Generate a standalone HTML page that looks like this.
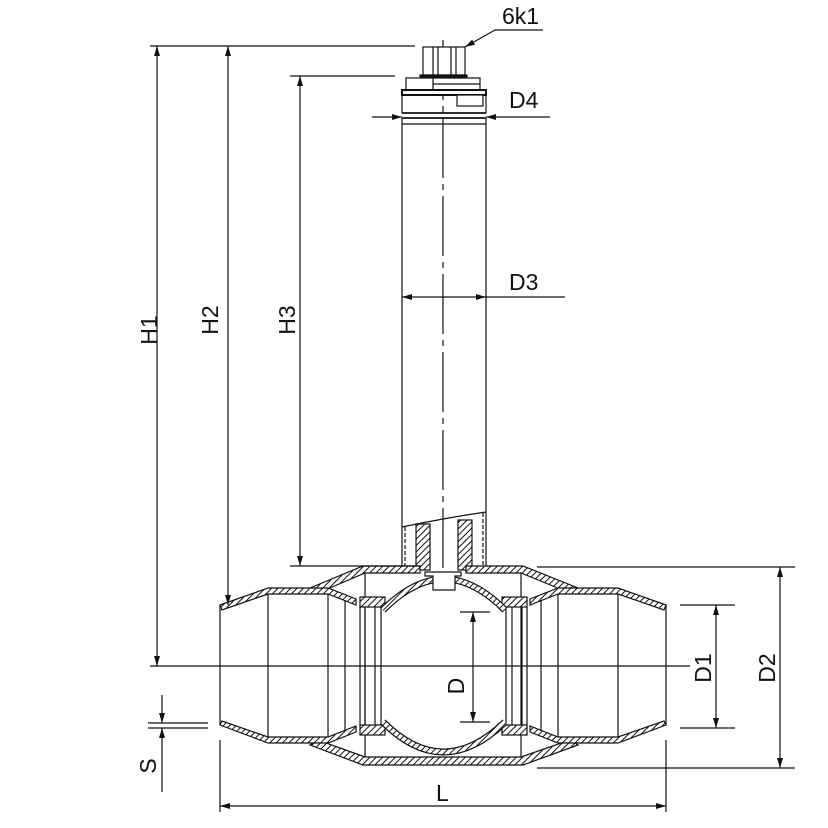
<!DOCTYPE html>
<html><head><meta charset="utf-8"><style>html,body{margin:0;padding:0;background:#fff}svg{display:block}</style></head><body>
<svg width="828" height="828" viewBox="0 0 828 828" xmlns="http://www.w3.org/2000/svg" font-family="Liberation Sans, sans-serif">
<defs>
<pattern id="h" patternUnits="userSpaceOnUse" width="4.5" height="4.5" patternTransform="rotate(45)"><rect width="4.5" height="4.5" fill="#fff"/><line x1="0" y1="0" x2="0" y2="4.5" stroke="#111" stroke-width="2"/></pattern>
<marker id="a" viewBox="0 0 10 10" refX="10" refY="5" markerWidth="10" markerHeight="10" orient="auto-start-reverse" markerUnits="userSpaceOnUse"><path d="M0,2 L10,5 L0,8z" fill="#111"/></marker>
</defs>
<g stroke="#111" stroke-width="1.2" fill="none">
<line x1="150" y1="666" x2="690" y2="666"/>
<line x1="443" y1="40" x2="443" y2="582" stroke-dasharray="60,6,6,6"/>
<rect x="423" y="47" width="42" height="28" fill="#fff"/>
<line x1="433" y1="47" x2="433" y2="75"/><line x1="438" y1="47" x2="438" y2="75"/><line x1="451" y1="47" x2="451" y2="75"/><line x1="456" y1="47" x2="456" y2="75"/>
<rect x="420" y="75" width="47" height="3" fill="#111"/>
<rect x="406" y="78" width="74" height="12" fill="#fff"/>
<line x1="433" y1="78" x2="433" y2="90"/><line x1="433" y1="84" x2="480" y2="84"/>
<rect x="402" y="90" width="84" height="5" fill="#fff" stroke-width="2"/>
<rect x="457" y="95" width="26" height="11" fill="#fff"/>
<line x1="402" y1="95" x2="402" y2="113"/><line x1="486" y1="95" x2="486" y2="113"/>
<line x1="402" y1="113" x2="486" y2="113" stroke-width="1.8"/><line x1="402" y1="118" x2="486" y2="118" stroke-width="1.8"/>
<line x1="402" y1="124" x2="486" y2="124"/>
<line x1="402" y1="118" x2="402" y2="568"/><line x1="486" y1="118" x2="486" y2="568"/>
<path d="M402,527 Q445,518 486,512"/>
<rect x="416" y="524" width="14" height="46" fill="url(#h)"/>
<rect x="458" y="520" width="14" height="50" fill="url(#h)"/>
<line x1="405" y1="527" x2="405" y2="568" stroke-dasharray="4,2"/><line x1="483" y1="513" x2="483" y2="568" stroke-dasharray="4,2"/>
<path d="M310,588 L363,566 L420,566 L420,573 L365,573 L318,593z" fill="url(#h)"/>
<path d="M466,566 L523,566 L578,588 L570,593 L521,573 L466,573z" fill="url(#h)"/>
<path d="M310,745 L318,740 L365,757 L521,757 L570,740 L578,745 L523,765 L363,765z" fill="url(#h)"/>
<line x1="365" y1="573" x2="365" y2="757"/><line x1="521" y1="573" x2="521" y2="757"/>
<path d="M220,605 L268,588 L328,588 L356,599 L356,605 L328,594 L268,594 L222,610z" fill="url(#h)"/>
<path d="M220,725 L268,743 L328,743 L356,732 L356,726 L328,737 L268,737 L222,721z" fill="url(#h)"/>
<line x1="220" y1="605" x2="220" y2="725"/>
<line x1="268" y1="594" x2="268" y2="737"/><line x1="328" y1="594" x2="328" y2="737"/><line x1="345" y1="600" x2="345" y2="731"/>
<path d="M666,605 L618,588 L558,588 L530,599 L530,605 L558,594 L618,594 L664,610z" fill="url(#h)"/>
<path d="M666,725 L618,743 L558,743 L530,732 L530,726 L558,737 L618,737 L664,721z" fill="url(#h)"/>
<line x1="666" y1="605" x2="666" y2="725"/>
<line x1="618" y1="594" x2="618" y2="737"/><line x1="558" y1="594" x2="558" y2="737"/><line x1="541" y1="600" x2="541" y2="731"/>
<rect x="360" y="597" width="25" height="10" fill="url(#h)"/><rect x="360" y="725" width="25" height="10" fill="url(#h)"/>
<rect x="502" y="597" width="25" height="10" fill="url(#h)"/><rect x="502" y="725" width="25" height="10" fill="url(#h)"/>
<line x1="360" y1="607" x2="360" y2="725"/><line x1="365" y1="607" x2="365" y2="725"/><line x1="375" y1="607" x2="375" y2="725"/><line x1="381" y1="607" x2="381" y2="725"/>
<line x1="506" y1="607" x2="506" y2="725"/><line x1="512" y1="607" x2="512" y2="725"/><line x1="522" y1="607" x2="522" y2="725"/><line x1="527" y1="607" x2="527" y2="725"/>
<path d="M383,610 Q408,585 433,580 M455,580 Q480,585 505,610" stroke-width="7" stroke="#111"/>
<path d="M383,610 Q408,585 433,580 M455,580 Q480,585 505,610" stroke-width="4.6" stroke="url(#h)"/>
<path d="M383,722 Q443,782 505,722" stroke-width="7" stroke="#111"/>
<path d="M383,722 Q443,782 505,722" stroke-width="4.6" stroke="url(#h)"/>
<path d="M425,572 L461,572 L461,576 L455,576 L455,590 L433,590 L433,576 L425,576z" fill="#fff"/>
<line x1="150" y1="46" x2="415" y2="46"/>
<line x1="157" y1="46" x2="157" y2="666" marker-start="url(#a)" marker-end="url(#a)"/>
<line x1="228" y1="46" x2="228" y2="605" marker-start="url(#a)" marker-end="url(#a)"/>
<line x1="290" y1="76" x2="395" y2="76"/><line x1="290" y1="566" x2="420" y2="566"/>
<line x1="300" y1="76" x2="300" y2="566" marker-start="url(#a)" marker-end="url(#a)"/>
<line x1="372" y1="117" x2="402" y2="117" marker-end="url(#a)"/>
<line x1="550" y1="117" x2="486" y2="117" marker-end="url(#a)"/>
<line x1="402" y1="297" x2="486" y2="297" marker-start="url(#a)" marker-end="url(#a)"/>
<line x1="486" y1="297" x2="565" y2="297"/>
<line x1="543" y1="30" x2="495" y2="30"/><line x1="495" y1="30" x2="465" y2="47" marker-end="url(#a)"/>
<line x1="460" y1="612" x2="490" y2="612"/><line x1="460" y1="722" x2="490" y2="722"/>
<line x1="473" y1="612" x2="473" y2="722" marker-start="url(#a)" marker-end="url(#a)"/>
<line x1="680" y1="605" x2="735" y2="605"/><line x1="680" y1="728" x2="735" y2="728"/>
<line x1="716" y1="605" x2="716" y2="728" marker-start="url(#a)" marker-end="url(#a)"/>
<line x1="537" y1="567" x2="795" y2="567"/><line x1="537" y1="768" x2="795" y2="768"/>
<line x1="780" y1="567" x2="780" y2="768" marker-start="url(#a)" marker-end="url(#a)"/>
<line x1="220" y1="740" x2="220" y2="812"/><line x1="666" y1="740" x2="666" y2="812"/>
<line x1="220" y1="806" x2="666" y2="806" marker-start="url(#a)" marker-end="url(#a)"/>
<line x1="148" y1="723" x2="208" y2="723"/><line x1="148" y1="728" x2="208" y2="728"/>
<line x1="162" y1="695" x2="162" y2="723" marker-end="url(#a)"/>
<line x1="162" y1="792" x2="162" y2="728" marker-end="url(#a)"/>
</g>
<g fill="#111" font-size="23">
<text x="502" y="24">6k1</text>
<text x="509" y="108">D4</text>
<text x="509" y="290">D3</text>
<text x="436" y="801">L</text>
<text transform="translate(157,330) rotate(-90)" text-anchor="middle">H1</text>
<text transform="translate(218,320) rotate(-90)" text-anchor="middle">H2</text>
<text transform="translate(295,320) rotate(-90)" text-anchor="middle">H3</text>
<text transform="translate(464,686) rotate(-90)" text-anchor="middle">D</text>
<text transform="translate(711,668) rotate(-90)" text-anchor="middle">D1</text>
<text transform="translate(775,668) rotate(-90)" text-anchor="middle">D2</text>
<text transform="translate(156,766) rotate(-90)" text-anchor="middle">S</text>
</g>
</svg>
</body></html>
